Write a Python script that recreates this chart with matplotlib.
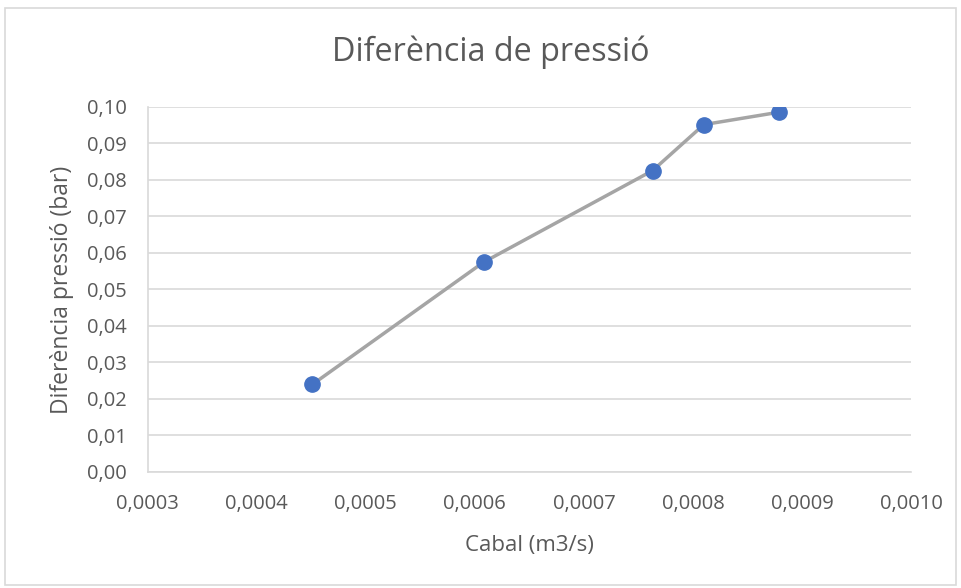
import matplotlib.pyplot as plt
from matplotlib.patches import Rectangle
from matplotlib.ticker import FuncFormatter, MultipleLocator

# Data
cabal = [0.000451, 0.000608, 0.000763, 0.000810, 0.000879]
dif_pressio = [0.0239, 0.0574, 0.0825, 0.0951, 0.0985]

text_color = '#595959'
grid_color = '#d9d9d9'

plt.rcParams['font.family'] = ['Open Sans', 'DejaVu Sans']

fig = plt.figure(figsize=(9.61, 5.88), dpi=100)
ax = fig.add_axes([0.1537, 0.1978, 0.7943, 0.6207])

# outer chart border
fig.patches.append(Rectangle((0.005, 0.005), 0.99, 0.982, transform=fig.transFigure,
                             fill=False, edgecolor=grid_color, linewidth=1.2))

ax.plot(cabal, dif_pressio, color='#a5a5a5', linewidth=2.5, zorder=2,
        marker='o', markersize=11, markerfacecolor='#4472c4',
        markeredgecolor='#4472c4')

ax.set_xlim(0.0003, 0.0010)
ax.set_ylim(0.0, 0.10)
ax.xaxis.set_major_locator(MultipleLocator(0.0001))
ax.yaxis.set_major_locator(MultipleLocator(0.01))
ax.xaxis.set_major_formatter(FuncFormatter(lambda v, p: f'{v:.4f}'.replace('.', ',')))
ax.yaxis.set_major_formatter(FuncFormatter(lambda v, p: f'{v:.2f}'.replace('.', ',')))

ax.grid(axis='y', color=grid_color, linewidth=1.2)
ax.set_axisbelow(True)
for side in ['top', 'right']:
    ax.spines[side].set_visible(False)
for side in ['left', 'bottom']:
    ax.spines[side].set_color(grid_color)
    ax.spines[side].set_linewidth(1.2)
ax.tick_params(length=0, labelsize=14.5, colors=text_color)
ax.tick_params(axis='x', pad=16)
ax.tick_params(axis='y', pad=15)

# axis titles and chart title placed in figure pixels
fig.text(529 / 961, 1 - 546 / 588, 'Cabal (m3/s)', ha='center', va='center',
         fontsize=16, color=text_color)
fig.text(61.5 / 961, 1 - 290 / 588, 'Diferència pressió (bar)', ha='center', va='center',
         rotation=90, fontsize=16.5, color=text_color)
fig.text(491 / 961, 1 - 52 / 588, 'Diferència de pressió', ha='center', va='center',
         fontsize=23.3, color=text_color)

fig.savefig('out.png', dpi=100)
